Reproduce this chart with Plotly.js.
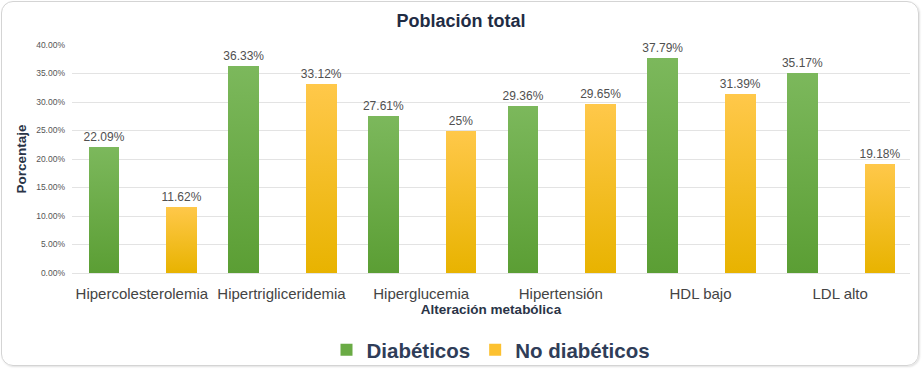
<!DOCTYPE html>
<html>
<head>
<meta charset="utf-8">
<script src="https://cdn.plot.ly/plotly-3.0.1.min.js"></script>
<style>
html,body{margin:0;padding:0;background:#fff;}
#wrap{position:relative;width:922px;height:369px;}
#chart{width:922px;height:369px;}
#frame{position:absolute;left:1px;top:1px;width:916px;height:363px;border:1px solid #d4d4d4;border-radius:12px;pointer-events:none;box-shadow:1px 1px 2px rgba(0,0,0,0.12);}
</style>
</head>
<body>
<div id="wrap"><div id="chart"></div><div id="frame"></div></div>
<script>
const categories = ["Hipercolesterolemia","Hipertrigliceridemia","Hiperglucemia","Hipertensión","HDL bajo","LDL alto"];
const diabeticos = [22.09, 36.33, 27.61, 29.36, 37.79, 35.17];
const noDiabeticos = [11.62, 33.12, 25, 29.65, 31.39, 19.18];
const seriesNames = ["Diabéticos", "No diabéticos"];

const FONT = "Liberation Sans, Arial, sans-serif";
const green = "#6aab45";
const yellow = "#fcc130";

const traces = [
  {
    type: "bar", name: "<b>" + seriesNames[0] + "</b>", x: categories, y: diabeticos,
    text: diabeticos.map(v => v + "%"), textposition: "outside", constraintext: "none",
    textfont: {family: FONT, size: 12, color: "#505050"},
    cliponaxis: false,
    marker: {color: green}, width: 0.22, offset: -0.38
  },
  {
    type: "bar", name: "<b>" + seriesNames[1] + "</b>", x: categories, y: noDiabeticos,
    text: noDiabeticos.map(v => v + "%"), textposition: "outside", constraintext: "none",
    textfont: {family: FONT, size: 12, color: "#505050"},
    cliponaxis: false,
    marker: {color: yellow}, width: 0.22, offset: 0.175
  }
];

const layout = {
  width: 922, height: 369,
  margin: {l: 72, r: 12, t: 45, b: 96},
  paper_bgcolor: "#ffffff", plot_bgcolor: "#ffffff",
  font: {family: FONT},
  showlegend: true,
  title: {text: "<b>Población total</b>", x: 0.5, xanchor: "center", y: 0.945, yanchor: "middle", yref: "container",
          font: {family: FONT, size: 18, color: "#1f2c44"}},
  xaxis: {
    type: "category", ticks: "", showgrid: false, showline: false, ticklabelstandoff: 10,
    tickfont: {family: FONT, size: 15, color: "#444444"},
    title: {text: "<b>Alteración metabólica</b>", standoff: 3, font: {family: FONT, size: 13.5, color: "#2a3447"}}
  },
  yaxis: {
    range: [0, 40], dtick: 5, tickformat: ".2f", ticksuffix: "%", ticklabelstandoff: 6,
    gridcolor: "#e3e3e3", zerolinecolor: "#e3e3e3", showline: false,
    tickfont: {family: FONT, size: 8.5, color: "#555555"},
    title: {text: "<b>Porcentaje</b>", standoff: 6, font: {family: FONT, size: 13.5, color: "#2a3447"}}
  },
  legend: {orientation: "h", x: 0.5, xanchor: "center", y: 0.052, yref: "container", yanchor: "middle",
           font: {family: FONT, size: 20.5, color: "#2f3d58"}, itemwidth: 30, tracegroupgap: 0},
  bargap: 0
};

Plotly.newPlot("chart", traces, layout, {staticPlot: true}).then(gd => {
  const svg = gd.querySelector("svg.main-svg");
  const ns = "http://www.w3.org/2000/svg";
  let defs = svg.querySelector("defs");
  function grad(id, top, bottom) {
    const g = document.createElementNS(ns, "linearGradient");
    g.setAttribute("id", id); g.setAttribute("x1", "0"); g.setAttribute("y1", "0");
    g.setAttribute("x2", "0"); g.setAttribute("y2", "1");
    const s1 = document.createElementNS(ns, "stop"); s1.setAttribute("offset", "0"); s1.setAttribute("stop-color", top);
    const s2 = document.createElementNS(ns, "stop"); s2.setAttribute("offset", "1"); s2.setAttribute("stop-color", bottom);
    g.appendChild(s1); g.appendChild(s2); defs.appendChild(g);
  }
  grad("gGreen", "#7cb85c", "#5b9e34");
  grad("gYellow", "#ffc84a", "#e8b300");
  const groups = gd.querySelectorAll(".barlayer .trace");
  const ids = ["gGreen", "gYellow"];
  groups.forEach((t, i) => {
    t.querySelectorAll(".point path").forEach(p => { p.style.fill = "url(#" + ids[i] + ")"; });
  });
});
</script>
</body>
</html>
